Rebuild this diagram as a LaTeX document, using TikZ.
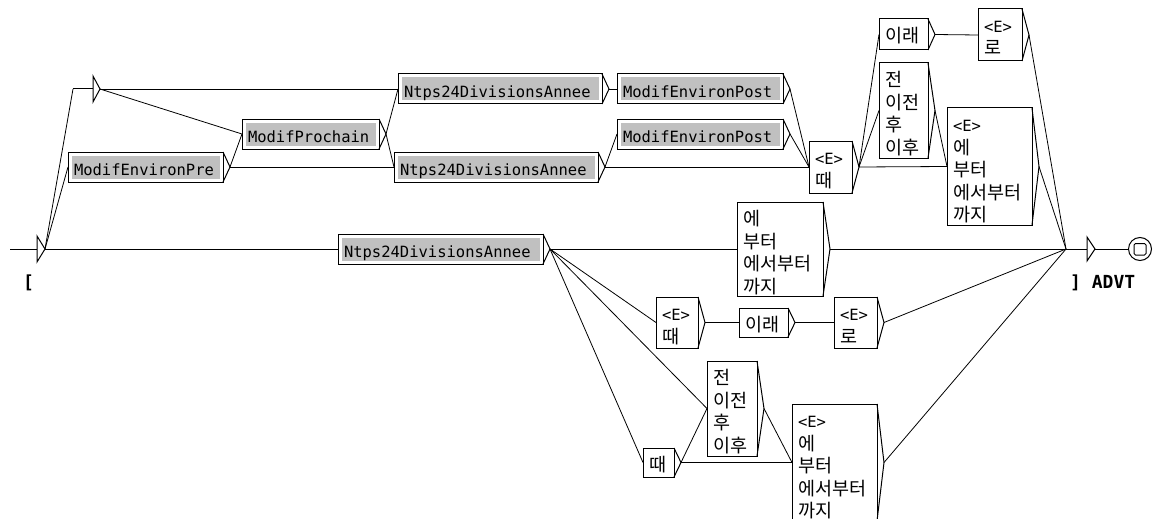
\documentclass[tikz,border=0pt]{standalone}
\usepackage{fontspec}
\newfontfamily\monofont{DejaVu Sans Mono}
\newfontfamily\krfont{Noto Sans CJK KR}
\usetikzlibrary{calc}
\definecolor{ugrey}{RGB}{192,192,192}
\newcommand\K[1]{{\krfont\fontsize{18.5}{22.5}\selectfont #1}}
\tikzset{
  ubox/.style={draw, line width=1pt, fill=white, inner sep=0pt, outer sep=0pt},
  utext/.style={inner sep=0pt, outer sep=0pt, align=left, font=\monofont\fontsize{15.5}{22.5}\selectfont},
  uline/.style={line width=1pt, line join=miter},
  conn/.style={line width=0.8pt},
  greyfill/.style={fill=ugrey},
  outtxt/.style={inner sep=0pt, font=\monofont\bfseries\fontsize{18}{20}\selectfont}
}
\newcommand\ubx[7]{%
  \node[ubox, minimum width={(#4)-(#2)}, minimum height={(#5)-(#3)}, anchor=north west] (#1) at (#2,#3) {};
  \ifnum#6=1 \fill[greyfill] ($(#2,#3)+(3.5,3.5)$) rectangle ($(#4,#5)+(-3.5,-3.5)$);\fi
  \node[utext, anchor=north west] (#1-t) at ($(#2,#3)+(6,4.5)$) {\rule{0pt}{19pt}#7};
  \draw[uline] (#1.north east) -- ($(#1.east)+(7,0)$) coordinate (#1-o) -- (#1.south east);
}
\begin{document}
\begin{tikzpicture}[x=1pt,y=-1pt]
\fill[white] (0,0) rectangle (1163,519);
\useasboundingbox (0,0) rectangle (1163,519);

% initial state
\coordinate (istart) at (10,249);
\coordinate (I) at (45,249);
\draw[uline] (istart) -- (37,249);
\draw[uline] (37,236) -- (I) -- (37,262) -- cycle;
\node[outtxt, anchor=base west] (outL) at (23,288) {[};

% epsilon box top
\coordinate (e1) at (73,89);
\coordinate (e1-o) at (100,89);
\draw[uline] (e1) -- (93,89);
\draw[uline] (93,76) -- (e1-o) -- (93,102) -- cycle;

% final
\coordinate (F) at (1066,249);
\coordinate (fo) at (1095,249);
\draw[uline] (F) -- (1087,249);
\draw[uline] (1087,237) -- (fo) -- (1087,261) -- cycle;
\node[circle, draw, line width=1pt, minimum size=23pt, inner sep=0pt] (fin) at (1140,249) {};
\draw[uline] (fo) -- (fin.west);
\draw[line width=1pt, rounded corners=1.5pt] (1134,243.5) rectangle (1146,255);
\node[outtxt, anchor=base west] (outR) at (1070,288) {] ADVT};

% boxes
\ubx{mepre}{68}{152}{223}{182}{1}{ModifEnvironPre}
\ubx{mpro}{242}{119}{379}{149}{1}{ModifProchain}
\ubx{nta}{398}{74}{602}{104}{1}{Ntps24DivisionsAnnee}
\ubx{ntb}{394}{152}{598}{182}{1}{Ntps24DivisionsAnnee}
\ubx{mepa}{617}{74}{783}{104}{1}{ModifEnvironPost}
\ubx{mepb}{617}{119}{783}{149}{1}{ModifEnvironPost}
\ubx{ettop}{809}{141}{852}{193}{0}{<E>\\\K{때}}
\ubx{iratop}{879}{19}{928}{50}{0}{\K{이래}}
\ubx{erotop}{978}{9}{1022}{61}{0}{<E>\\\K{로}}
\ubx{jeontop}{879}{63}{928}{158}{0}{\K{전}\\\K{이전}\\\K{후}\\\K{이후}}
\ubx{eetop}{947}{108}{1032}{225}{0}{<E>\\\K{에}\\\K{부터}\\\K{에서부터}\\\K{까지}}
\ubx{ntm}{338}{234}{543}{264}{1}{Ntps24DivisionsAnnee}
\ubx{emid}{737}{202}{823}{296}{0}{\K{에}\\\K{부터}\\\K{에서부터}\\\K{까지}}
\ubx{etlow}{656}{297}{698}{348}{0}{<E>\\\K{때}}
\ubx{iralow}{739}{308}{788}{337}{0}{\K{이래}}
\ubx{erolow}{834}{297}{877}{348}{0}{<E>\\\K{로}}
\ubx{jeonlow}{707}{361}{757}{456}{0}{\K{전}\\\K{이전}\\\K{후}\\\K{이후}}
\ubx{ttlow}{643}{448}{674}{477}{0}{\K{때}}
\ubx{eelow}{792}{404}{877}{521}{0}{<E>\\\K{에}\\\K{부터}\\\K{에서부터}\\\K{까지}}

% connectors
\draw[conn] (I) -- (e1);
\draw[conn] (I) -- (mepre.west);
\draw[conn] (I) -- (ntm.west);
\draw[conn] (e1-o) -- (mpro.west);
\draw[conn] (e1-o) -- (nta.west);
\draw[conn] (mepre-o) -- (mpro.west);
\draw[conn] (mepre-o) -- (ntb.west);
\draw[conn] (mpro-o) -- (nta.west);
\draw[conn] (mpro-o) -- (ntb.west);
\draw[conn] (nta-o) -- (mepa.west);
\draw[conn] (ntb-o) -- (mepb.west);
\draw[conn] (ntb-o) -- (ettop.west);
\draw[conn] (mepa-o) -- (ettop.west);
\draw[conn] (mepb-o) -- (ettop.west);
\draw[conn] (ettop-o) -- (iratop.west);
\draw[conn] (ettop-o) -- (jeontop.west);
\draw[conn] (ettop-o) -- (eetop.west);
\draw[conn] (iratop-o) -- (erotop.west);
\draw[conn] (erotop-o) -- (F);
\draw[conn] (jeontop-o) -- (eetop.west);
\draw[conn] (eetop-o) -- (F);
\draw[conn] (ntm-o) -- (emid.west);
\draw[conn] (ntm-o) -- (etlow.west);
\draw[conn] (ntm-o) -- (jeonlow.west);
\draw[conn] (ntm-o) -- (ttlow.west);
\draw[conn] (emid-o) -- (F);
\draw[conn] (etlow-o) -- (iralow.west);
\draw[conn] (iralow-o) -- (erolow.west);
\draw[conn] (erolow-o) -- (F);
\draw[conn] (jeonlow-o) -- (eelow.west);
\draw[conn] (ttlow-o) -- (jeonlow.west);
\draw[conn] (ttlow-o) -- (eelow.west);
\draw[conn] (eelow-o) -- (F);
\end{tikzpicture}
\end{document}
